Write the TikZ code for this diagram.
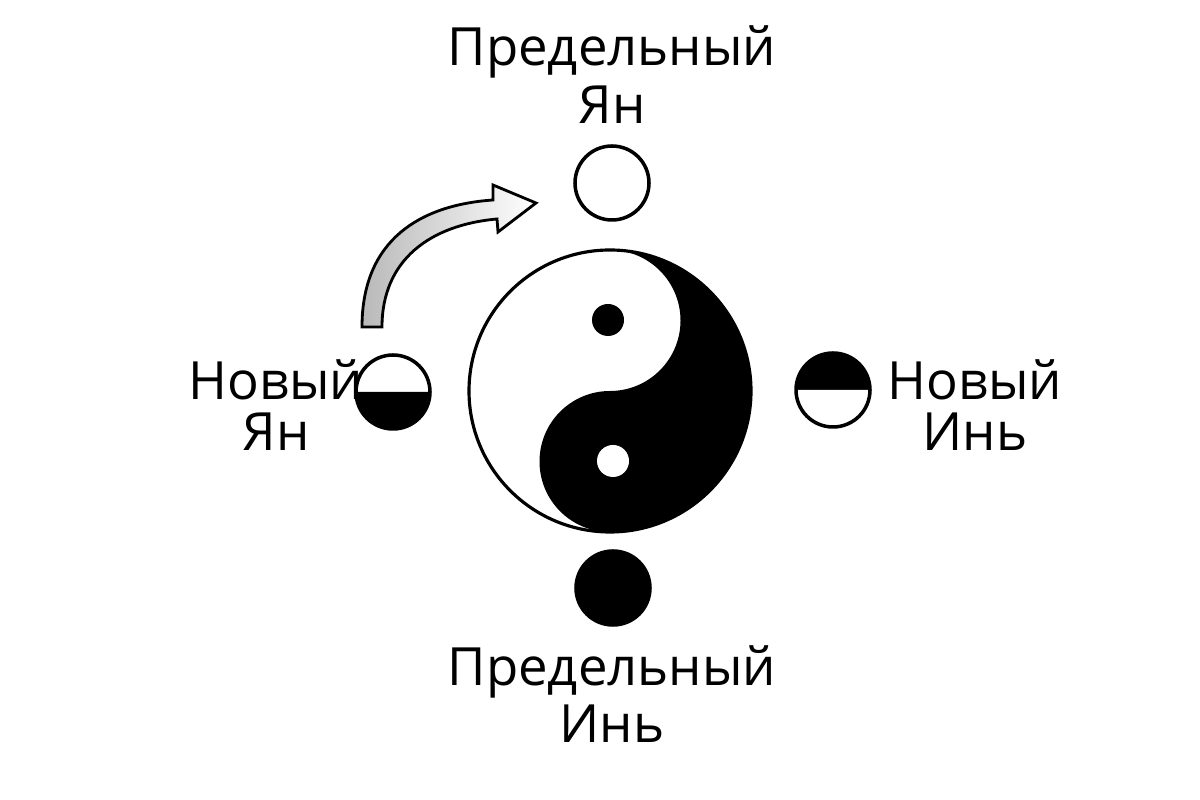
\documentclass[tikz,border=0pt]{standalone}
\usepackage{fontspec}
\setmainfont{Open Sans}
\begin{document}
\begin{tikzpicture}[x=0.02cm,y=0.02cm,
  lbl/.style={font=\fontsize{30}{30}\selectfont, inner sep=0pt, align=center},
  ring/.style={draw=black, line width=2pt}]
\useasboundingbox (0,0) rectangle (1200,800);
% yin-yang
\fill[black] (610,550) arc[start angle=90,end angle=-90,radius=141]
  arc[start angle=270,end angle=90,radius=70.5]
  arc[start angle=-90,end angle=90,radius=70.5] -- cycle;
\draw[line width=1.8pt] (610,409) circle[radius=141];
\fill[black] (608,480) circle[radius=16];
\fill[white] (613,339) circle[radius=16];
% small circles
\node[ring, circle, minimum size=74*0.02cm, inner sep=0pt, fill=white] (top) at (612,617) {};
\node[ring, circle, minimum size=74*0.02cm, inner sep=0pt, fill=black] (bot) at (613,212) {};
\coordinate (L) at (393,408);
\fill[white] (L) ++(37,0) arc[start angle=0,end angle=180,radius=37] -- cycle;
\fill[black] (L) ++(37,0) arc[start angle=0,end angle=-180,radius=37] -- cycle;
\draw[line width=2pt] (L) circle[radius=37];
\coordinate (R) at (833,410);
\fill[black] (R) ++(37,0) arc[start angle=0,end angle=180,radius=37] -- cycle;
\fill[white] (R) ++(37,0) arc[start angle=0,end angle=-180,radius=37] -- cycle;
\draw[line width=2pt] (R) circle[radius=37];
% arrow
\draw[line width=1.6pt, line join=miter, left color=gray!55, right color=white]
  (362,473) .. controls (362,560) and (420,595) .. (493,600)
  -- (493,615) -- (536,597) -- (498,568) -- (497,581)
  .. controls (430,575) and (382,540) .. (382,473) -- cycle;
% labels
\node[lbl] (t1) at (612,748) {Предельный};
\node[lbl] (t2) at (612,695) {Ян};
\node[lbl] (b1) at (612,128) {Предельный};
\node[lbl] (b2) at (612,76) {Инь};
\node[lbl] (l1) at (276,420) {Новый};
\node[lbl] (l2) at (276,368) {Ян};
\node[lbl] (r1) at (975,420) {Новый};
\node[lbl] (r2) at (975,368) {Инь};
\end{tikzpicture}
\end{document}
